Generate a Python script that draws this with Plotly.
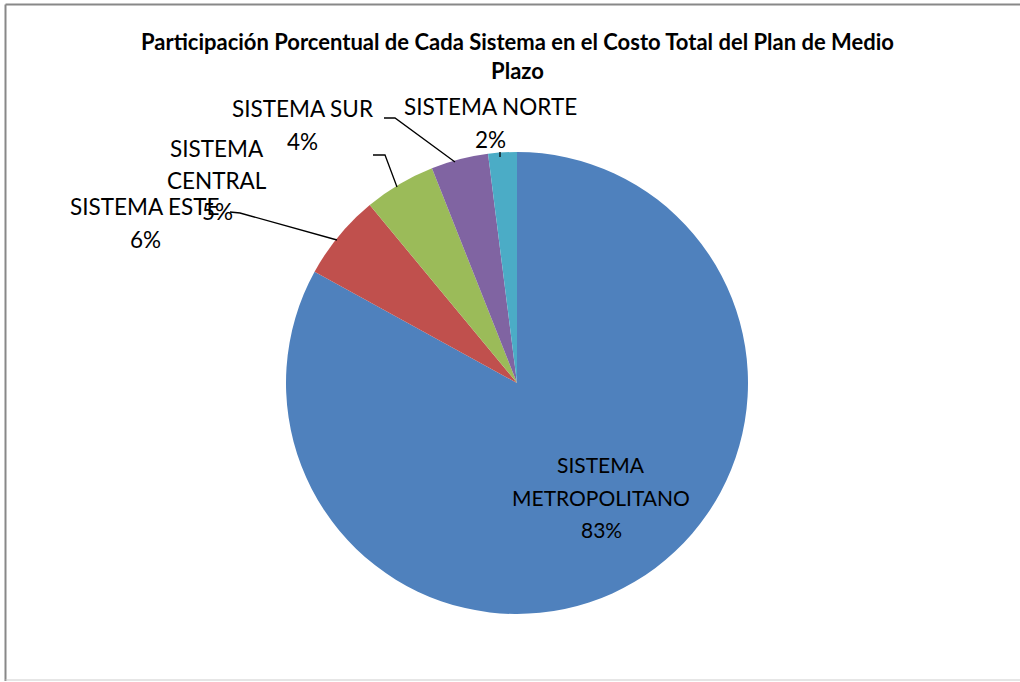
import plotly.graph_objects as go

# Share of each system in the total cost of the medium-term plan
sistemas = ["SISTEMA METROPOLITANO", "SISTEMA ESTE", "SISTEMA CENTRAL", "SISTEMA SUR", "SISTEMA NORTE"]
porcentajes = [83, 6, 5, 4, 2]
colores = ["#4F81BD", "#C0504D", "#9BBB59", "#8064A2", "#4BACC6"]

# Label text lines as they are wrapped on the chart
etiquetas = [
    ["SISTEMA", "METROPOLITANO"],
    ["SISTEMA ESTE"],
    ["SISTEMA", "CENTRAL"],
    ["SISTEMA SUR"],
    ["SISTEMA NORTE"],
]

W, H = 1020, 682
FONT = "Lato"

def px(x):
    return x / W

def py(y):
    return 1 - y / H

fig = go.Figure(go.Pie(
    labels=sistemas,
    values=porcentajes,
    marker=dict(colors=colores, line=dict(width=0)),
    sort=False,
    direction="clockwise",
    rotation=0,
    textinfo="none",
    hoverinfo="label+percent",
    showlegend=False,
    domain=dict(x=[px(286), px(748)], y=[py(614), py(152)]),
))

# Label anchor points (pixel centres of the first text line), sizes and line spacing
posiciones = [(601, 465), (145, 207), (217, 148), (302, 109), (490, 107)]
tamanos = [21, 22.5, 22.5, 22.5, 22.5]
paso = 32

anotaciones = []
for lineas, valor, (cx, cy), tam in zip(etiquetas, porcentajes, posiciones, tamanos):
    textos = lineas + [f"{valor}%"]
    for i, t in enumerate(textos):
        anotaciones.append(dict(
            x=px(cx), y=py(cy + i * paso), xref="paper", yref="paper",
            text=t, showarrow=False, xanchor="center", yanchor="middle",
            font=dict(family=FONT, size=tam, color="#000000"),
        ))

anotaciones.append(dict(
    x=px(517), y=py(55.5), xref="paper", yref="paper",
    text="<b>Participación Porcentual de Cada Sistema en el Costo Total del Plan de Medio<br>Plazo</b>",
    showarrow=False, xanchor="center", yanchor="middle",
    font=dict(family=FONT, size=22, color="#000000"),
))

# Leader lines from the outer labels to their slices
guias = [
    [(230, 212), (240, 213), (337, 240)],
    [(373, 155), (385, 155), (397, 187)],
    [(384, 118), (395, 118), (455, 162)],
    [(500, 152), (500, 157)],
]
formas = []
for puntos in guias:
    ruta = "M " + " L ".join(f"{px(x)},{py(y)}" for x, y in puntos)
    formas.append(dict(type="path", path=ruta, xref="paper", yref="paper",
                       line=dict(color="#000000", width=1.3)))

# Chart area frame
formas.append(dict(type="line", xref="paper", yref="paper",
                   x0=px(5.5), y0=py(4.5), x1=1, y1=py(4.5),
                   line=dict(color="#888888", width=2)))
formas.append(dict(type="line", xref="paper", yref="paper",
                   x0=px(5.5), y0=py(4.5), x1=px(5.5), y1=py(681),
                   line=dict(color="#888888", width=2)))
formas.append(dict(type="line", xref="paper", yref="paper",
                   x0=px(5.5), y0=py(680), x1=1, y1=py(680),
                   line=dict(color="#CCCCCC", width=1)))

fig.update_layout(
    width=W, height=H,
    margin=dict(l=0, r=0, t=0, b=0),
    paper_bgcolor="#FFFFFF",
    annotations=anotaciones,
    shapes=formas,
)

fig.write_html("out.html")
